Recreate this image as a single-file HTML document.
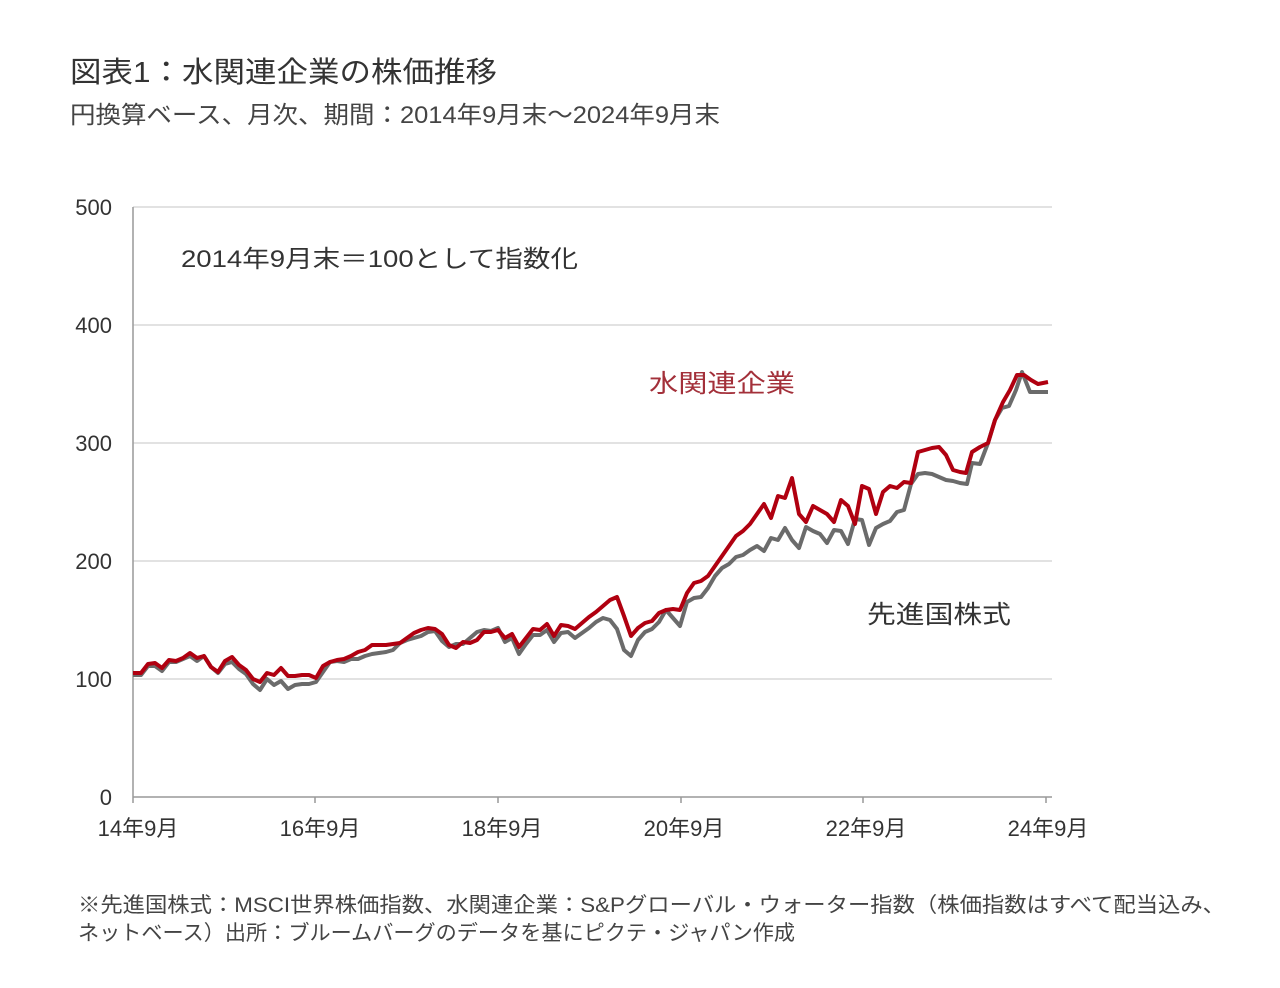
<!DOCTYPE html>
<html><head><meta charset="utf-8"><style>
html,body{margin:0;padding:0;background:#fff;}
svg text{font-family:"Liberation Sans","Noto Sans CJK JP",sans-serif;}
</style></head><body>
<svg width="1280" height="983" viewBox="0 0 1280 983" xmlns="http://www.w3.org/2000/svg">
<rect width="1280" height="983" fill="#fff"/>
<text x="70" y="82" font-size="29" fill="#333" textLength="427" lengthAdjust="spacingAndGlyphs">図表1：水関連企業の株価推移</text>
<text x="70" y="123" font-size="24" fill="#444" textLength="650" lengthAdjust="spacingAndGlyphs">円換算ベース、月次、期間：2014年9月末～2024年9月末</text>
<g stroke="#d9d9d9" stroke-width="1.5">
<line x1="133" y1="207" x2="1052" y2="207"/>
<line x1="133" y1="325" x2="1052" y2="325"/>
<line x1="133" y1="443" x2="1052" y2="443"/>
<line x1="133" y1="561" x2="1052" y2="561"/>
<line x1="133" y1="679" x2="1052" y2="679"/>
</g>
<g stroke="#999" stroke-width="1.5">
<line x1="133" y1="207" x2="133" y2="797"/>
<line x1="133" y1="797" x2="1052" y2="797"/>
<line x1="133" y1="797" x2="133" y2="803"/>
<line x1="315" y1="797" x2="315" y2="803"/>
<line x1="498" y1="797" x2="498" y2="803"/>
<line x1="681" y1="797" x2="681" y2="803"/>
<line x1="863" y1="797" x2="863" y2="803"/>
<line x1="1046" y1="797" x2="1046" y2="803"/>
</g>
<g font-size="22" fill="#333" text-anchor="end">
<text x="112" y="215">500</text><text x="112" y="333">400</text><text x="112" y="451">300</text>
<text x="112" y="569">200</text><text x="112" y="687">100</text><text x="112" y="805">0</text>
</g>
<g font-size="22" fill="#333" text-anchor="middle">
<text x="138" y="836">14年9月</text><text x="320" y="836">16年9月</text><text x="502" y="836">18年9月</text>
<text x="684" y="836">20年9月</text><text x="866" y="836">22年9月</text><text x="1048" y="836">24年9月</text>
</g>
<text x="181" y="267" font-size="24" fill="#333" textLength="397" lengthAdjust="spacingAndGlyphs">2014年9月末＝100として指数化</text>
<polyline fill="none" stroke="#6b6b6b" stroke-width="4" stroke-linejoin="round" points="133,675 141,675 148,666 155,666 162,671 169,662 176,662 183,659 190,656 197,661 204,656 211,667 218,673 225,664 232,662 239,669 246,674 253,684 260,690 267,679 274,685 281,681 288,689 295,685 302,684 309,684 316,682 323,672 330,662 337,661 344,662 351,659 358,659 365,656 372,654 379,653 386,652 393,650 400,643 407,640 414,638 421,636 428,632 435,631 442,641 449,647 456,644 463,644 470,638 477,632 484,630 491,631 498,628 505,642 512,638 519,654 526,644 533,635 540,635 547,630 554,642 561,633 568,632 575,638 582,633 589,628 596,622 603,618 610,620 617,629 624,650 631,656 638,640 645,632 652,629 659,622 666,610 673,618 680,626 687,602 694,598 701,597 708,588 715,576 722,568 729,564 736,557 743,555 750,550 757,546 764,551 771,538 778,540 785,528 792,540 799,548 806,527 813,531 820,534 827,543 834,530 841,531 848,544 855,519 862,520 869,545 876,528 883,524 890,521 897,512 904,510 911,484 918,474 925,473 932,474 939,477 946,480 953,481 960,483 967,484 972,463 980,464 988,443 995,420 1002,408 1009,406 1016,390 1022,372 1030,392 1048,392"/>
<polyline fill="none" stroke="#b00010" stroke-width="4" stroke-linejoin="round" points="133,673 141,673 148,664 155,663 162,668 169,660 176,661 183,658 190,653 197,658 204,656 211,667 218,672 225,661 232,657 239,665 246,670 253,679 260,682 267,673 274,675 281,668 288,676 295,676 302,675 309,675 316,678 323,666 330,662 337,660 344,659 351,656 358,652 365,650 372,645 379,645 386,645 393,644 400,643 407,638 414,633 421,630 428,628 435,629 442,634 449,645 456,648 463,642 470,643 477,640 484,632 491,632 498,630 505,638 512,634 519,647 526,638 533,629 540,630 547,624 554,636 561,625 568,626 575,629 582,623 589,617 596,612 603,606 610,600 617,597 624,616 631,636 638,628 645,623 652,621 659,613 666,610 673,609 680,610 687,593 694,583 701,581 708,576 715,566 722,556 729,546 736,536 743,531 750,524 757,514 764,504 771,518 778,496 785,498 792,478 799,514 806,522 813,506 820,510 827,514 834,522 841,500 848,506 855,524 862,486 869,489 876,514 883,492 890,486 897,488 904,482 911,483 918,452 925,450 932,448 939,447 946,455 953,470 960,472 966,473 972,452 980,447 988,443 995,420 1003,402 1010,390 1017,375 1024,375 1031,380 1038,384 1048,382"/>
<text x="649" y="392" font-size="25" fill="#a3303a" textLength="146" lengthAdjust="spacingAndGlyphs">水関連企業</text>
<text x="867" y="623" font-size="25" fill="#333" textLength="144" lengthAdjust="spacingAndGlyphs">先進国株式</text>
<text x="78" y="912" font-size="21" fill="#444" textLength="1147" lengthAdjust="spacingAndGlyphs">※先進国株式：MSCI世界株価指数、水関連企業：S&amp;Pグローバル・ウォーター指数（株価指数はすべて配当込み、</text>
<text x="78" y="940" font-size="21" fill="#444" textLength="717" lengthAdjust="spacingAndGlyphs">ネットベース）出所：ブルームバーグのデータを基にピクテ・ジャパン作成</text>
</svg>
</body></html>
